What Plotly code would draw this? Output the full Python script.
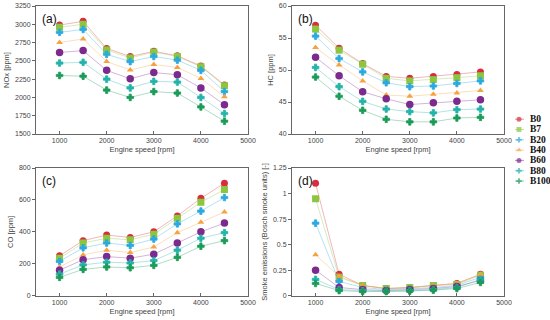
import plotly.graph_objects as go

speeds = [1000, 1500, 2000, 2500, 3000, 3500, 4000, 4500]
fuels = ["B0", "B7", "B20", "B40", "B60", "B80", "B100"]

nox = {
    "B0":   [2990, 3040, 2670, 2560, 2630, 2570, 2430, 2170],
    "B7":   [2960, 3000, 2650, 2540, 2620, 2560, 2420, 2160],
    "B20":  [2890, 2930, 2590, 2490, 2560, 2510, 2370, 2080],
    "B40":  [2750, 2800, 2490, 2375, 2450, 2410, 2260, 2010],
    "B60":  [2615, 2640, 2370, 2255, 2340, 2310, 2130, 1900],
    "B80":  [2470, 2480, 2250, 2130, 2220, 2210, 2000, 1780],
    "B100": [2300, 2290, 2100, 2000, 2080, 2060, 1870, 1675],
}
hc = {
    "B0":   [57.0, 53.4, 51.0, 49.0, 48.7, 49.0, 49.3, 49.7],
    "B7":   [56.4, 53.1, 50.9, 48.7, 48.3, 48.5, 48.8, 49.1],
    "B20":  [55.3, 51.8, 49.7, 48.0, 47.4, 47.5, 47.9, 48.3],
    "B40":  [53.5, 50.8, 48.3, 46.1, 45.9, 46.2, 46.4, 46.8],
    "B60":  [52.0, 49.1, 46.6, 45.5, 44.6, 44.9, 45.1, 45.35],
    "B80":  [50.4, 47.4, 45.1, 43.9, 43.5, 43.3, 43.8, 43.9],
    "B100": [48.9, 45.9, 43.7, 42.3, 41.9, 41.9, 42.5, 42.6],
}
co = {
    "B0":   [250, 345, 380, 365, 400, 500, 610, 705],
    "B7":   [235, 330, 360, 350, 385, 485, 585, 665],
    "B20":  [215, 300, 330, 315, 355, 450, 530, 615],
    "B40":  [180, 255, 285, 270, 305, 395, 460, 525],
    "B60":  [160, 225, 245, 235, 260, 330, 400, 455],
    "B80":  [135, 193, 210, 205, 220, 285, 360, 395],
    "B100": [115, 165, 180, 175, 190, 240, 310, 345],
}
smoke = {
    "B0":   [1.10, 0.21, 0.10, 0.07, 0.08, 0.10, 0.12, 0.21],
    "B7":   [0.95, 0.18, 0.10, 0.07, 0.08, 0.10, 0.11, 0.20],
    "B20":  [0.71, 0.14, 0.08, 0.06, 0.07, 0.08, 0.10, 0.18],
    "B40":  [0.40, 0.19, 0.10, 0.07, 0.08, 0.10, 0.12, 0.21],
    "B60":  [0.25, 0.08, 0.06, 0.05, 0.06, 0.07, 0.09, 0.15],
    "B80":  [0.16, 0.06, 0.05, 0.045, 0.05, 0.06, 0.08, 0.16],
    "B100": [0.12, 0.05, 0.04, 0.04, 0.045, 0.055, 0.07, 0.13],
}

colors = {
    "B0": "#d92d3f", "B7": "#8cc63f", "B20": "#2aa9e0", "B40": "#f5a340",
    "B60": "#7d2a8e", "B80": "#22b3aa", "B100": "#1a9c58",
}
symbols = {
    "B0": "circle", "B7": "square", "B20": "cross", "B40": "triangle-up",
    "B60": "circle", "B80": "cross", "B100": "cross",
}
sizes = {"B0": 7, "B7": 7, "B20": 5.5, "B40": 6, "B60": 7.5, "B80": 5.5, "B100": 5.5}


def light(hexc, a=0.35):
    h = hexc.lstrip("#")
    r, g, b = int(h[0:2], 16), int(h[2:4], 16), int(h[4:6], 16)
    return f"rgba({r},{g},{b},{a})"


W, H = 550, 320
fig = go.Figure()

panels = [
    ("x", "y", nox), ("x2", "y2", hc), ("x3", "y3", co), ("x4", "y4", smoke),
]
for xa, ya, data in panels:
    for f in fuels:
        is_cross = symbols[f] == "cross"
        fig.add_trace(go.Scatter(
            x=speeds, y=data[f], xaxis=xa, yaxis=ya, mode="lines+markers",
            line=dict(color=light(colors[f]), width=1),
            marker=dict(color=colors[f], symbol=symbols[f], size=sizes[f],
                        line=dict(width=0.8 if is_cross else 0, color=colors[f])),
            showlegend=False, name=f,
        ))

# custom compact legend on a hidden axis
for i, f in enumerate(fuels):
    fig.add_trace(go.Scatter(
        x=[5, 9, 14], y=[i, i, i], xaxis="x5", yaxis="y5", mode="lines+markers",
        line=dict(color=light(colors[f], 0.5), width=1),
        marker=dict(color=colors[f], symbol=symbols[f],
                    size=[0, 4.5 if symbols[f] == "cross" else 5, 0], line=dict(width=0)),
        showlegend=False, hoverinfo="skip",
    ))
    fig.add_annotation(x=17.5, y=i, xref="x5", yref="y5", text=f"<b>{f}</b>", showarrow=False,
                       xanchor="left", yanchor="middle",
                       font=dict(family="Liberation Serif", size=9.5, color="#111"))


def px_dom_x(a, b):
    return [a / W, b / W]


def px_dom_y(top, bot):
    return [1 - bot / H, 1 - top / H]


tickfont = dict(family="Liberation Sans", size=7, color="#444")
titlefont = dict(family="Liberation Sans", size=7.5, color="#444")


def xax(dom, anchor):
    return dict(domain=dom, anchor=anchor, range=[500, 5000], tickvals=[1000, 2000, 3000, 4000, 5000],
                showgrid=False, zeroline=False, showline=True, linecolor="#666", linewidth=1,
                mirror=True, ticks="inside", ticklen=3, tickcolor="#666", tickfont=tickfont,
                automargin=False,
                title=dict(text="Engine speed [rpm]", font=titlefont, standoff=3))


def yax(dom, anchor, rng, dtick, title):
    return dict(domain=dom, anchor=anchor, range=rng, dtick=dtick, tick0=rng[0],
                showgrid=False, zeroline=False, showline=True, linecolor="#666", linewidth=1,
                mirror=True, ticks="outside", ticklen=3, tickcolor="#666", tickfont=tickfont,
                automargin=False,
                title=dict(text=title, font=titlefont, standoff=4))


top_y = px_dom_y(6, 134)
bot_y = px_dom_y(168, 295.7)
left_x = px_dom_x(36, 248)
right_x = px_dom_x(292, 504)

fig.update_layout(
    width=W, height=H, margin=dict(l=0, r=0, t=0, b=0, autoexpand=False),
    paper_bgcolor="white", plot_bgcolor="white", showlegend=False,
    xaxis=xax(left_x, "y"), yaxis=yax(top_y, "x", [1500, 3250], 250, "NOx [ppm]"),
    xaxis2=xax(right_x, "y2"), yaxis2=yax(top_y, "x2", [40, 60], 5, "HC [ppm]"),
    xaxis3=xax(left_x, "y3"), yaxis3=yax(bot_y, "x3", [0, 800], 200, "CO [ppm]"),
    xaxis4=xax(right_x, "y4"),
    yaxis4=yax(bot_y, "x4", [0, 1.25], 0.25, "Smoke emissions (Bosch smoke units) [-]"),
    xaxis5=dict(domain=[510 / W, 550 / W], anchor="y5", range=[0, 40], visible=False,
                fixedrange=True, automargin=False),
    yaxis5=dict(domain=px_dom_y(114, 196), anchor="x5", range=[7.45, -0.5], visible=False,
                fixedrange=True, automargin=False),
)

for lab, xr, yr in [("(a)", "x domain", "y domain"), ("(b)", "x2 domain", "y2 domain"),
                    ("(c)", "x3 domain", "y3 domain"), ("(d)", "x4 domain", "y4 domain")]:
    fig.add_annotation(x=0.02, y=0.97, xref=xr, yref=yr, text=lab, showarrow=False,
                       xanchor="left", yanchor="top",
                       font=dict(family="Liberation Sans", size=12, color="#111"))

fig.write_html("out.html", config={"displayModeBar": False},
               post_script="document.body.style.margin='0';document.body.style.padding='0';")
